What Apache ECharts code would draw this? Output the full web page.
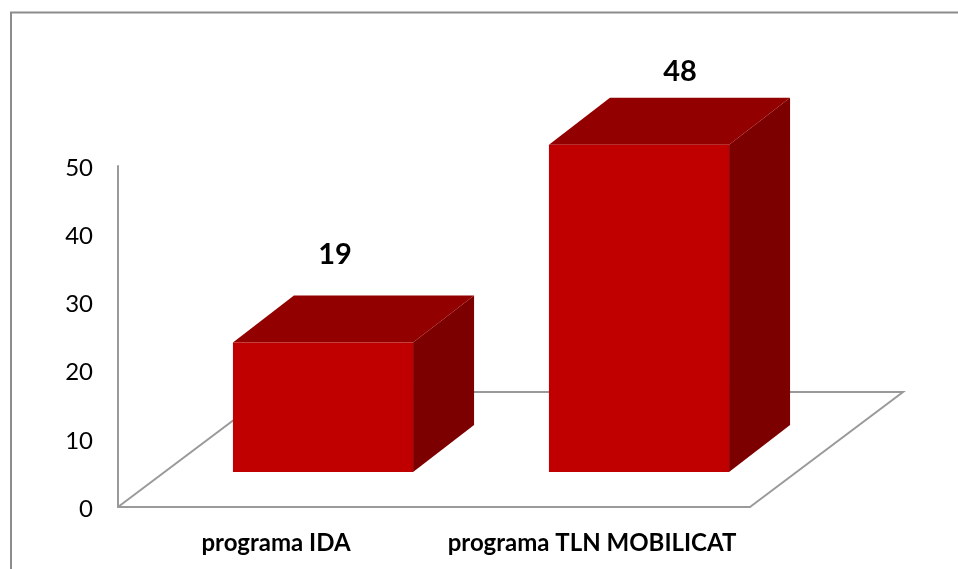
<!DOCTYPE html>
<html lang="es">
<head>
    <meta charset="utf-8">
    <title>programa IDA / TLN MOBILICAT</title>
    <style>
        html, body { margin: 0; padding: 0; background: #fff; }
        #chart { width: 958px; height: 569px; }
    </style>
</head>
<body>
    <div id="chart"></div>
    <script src="https://cdn.jsdelivr.net/npm/echarts@6/dist/echarts.min.js"></script>
    <script>
        const categories = ['programa IDA', 'programa TLN MOBILICAT'];
        const values = [19, 48];
        const yTicks = { min: 0, max: 50, interval: 10 };

        const FONT = 'Lato, "Open Sans", sans-serif';
        const GRAY = '#9a9a9a';

        // 3d look: floor depth, bar depth and where the bar stands on the floor
        const floorDepth = [153, -115];
        const barDepth = [61, -47];
        const barShift = [47, -35];
        const barRatio = 0.57;
        // the labels were placed by hand in the original, so they are offset per bar
        const labelShift = [[12, -88], [41, -73]];

        const chart = echarts.init(document.getElementById('chart'));

        function renderFloor(params) {
            const g = params.coordSys;
            const x0 = g.x, x1 = g.x + g.width, y0 = g.y + g.height;
            const dx = floorDepth[0], dy = floorDepth[1];
            return {
                type: 'polyline',
                shape: {
                    points: [[x0, y0], [x0 + dx, y0 + dy], [x1 + dx, y0 + dy], [x1, y0]]
                },
                style: { fill: null, stroke: GRAY, lineWidth: 2 }
            };
        }

        function renderBar(params, api) {
            const top = api.coord([api.value(0), api.value(1)]);
            const base = api.coord([api.value(0), 0]);
            const w = api.size([1, 0])[0] * barRatio;
            const l = top[0] + barShift[0] - w / 2;
            const r = l + w;
            const t = top[1] + barShift[1];
            const b = base[1] + barShift[1];
            const dx = barDepth[0], dy = barDepth[1];
            const shift = labelShift[params.dataIndex];
            return {
                type: 'group',
                children: [
                    {
                        type: 'polygon',
                        shape: { points: [[r, t], [r + dx, t + dy], [r + dx, b + dy], [r, b]] },
                        style: { fill: '#7d0000' }
                    },
                    {
                        type: 'polygon',
                        shape: { points: [[l, t], [l + dx, t + dy], [r + dx, t + dy], [r, t]] },
                        style: { fill: '#930000' }
                    },
                    {
                        type: 'rect',
                        shape: { x: l, y: t, width: w, height: b - t },
                        style: { fill: '#c00000' }
                    },
                    {
                        type: 'text',
                        x: top[0] + barShift[0] + shift[0],
                        y: t + shift[1],
                        style: {
                            text: String(api.value(1)),
                            font: 'bold 29px ' + FONT,
                            fill: '#000',
                            align: 'center',
                            verticalAlign: 'middle'
                        }
                    }
                ]
            };
        }

        const option = {
            animation: false,
            backgroundColor: '#fff',
            graphic: [
                {
                    type: 'polyline',
                    silent: true,
                    shape: { points: [[11, 569], [11, 12.5], [958, 12.5]] },
                    style: { fill: null, stroke: '#8c8c8c', lineWidth: 2 }
                }
            ],
            grid: { left: 118, top: 166, width: 632, height: 341 },
            xAxis: {
                type: 'category',
                data: categories,
                axisTick: { show: false },
                axisLine: { lineStyle: { color: GRAY, width: 2 } },
                axisLabel: {
                    interval: 0,
                    hideOverlap: false,
                    color: '#000',
                    fontFamily: FONT,
                    fontWeight: 'bold',
                    fontSize: 24,
                    margin: 24
                }
            },
            yAxis: {
                type: 'value',
                min: yTicks.min,
                max: yTicks.max,
                interval: yTicks.interval,
                splitLine: { show: false },
                axisTick: { show: false },
                axisLine: { show: true, lineStyle: { color: GRAY, width: 2 } },
                axisLabel: {
                    margin: 25,
                    formatter: '{n|{value}}',
                    rich: {
                        n: {
                            color: '#000',
                            fontFamily: FONT,
                            fontSize: 24,
                            padding: [4, 0, 0, 0]
                        }
                    }
                }
            },
            series: [
                {
                    type: 'custom',
                    coordinateSystem: 'cartesian2d',
                    silent: true,
                    clip: false,
                    z: 1,
                    data: [[0, 0]],
                    renderItem: renderFloor
                },
                {
                    type: 'custom',
                    coordinateSystem: 'cartesian2d',
                    clip: false,
                    z: 2,
                    encode: { x: 0, y: 1 },
                    data: values.map(function (v, i) { return [i, v]; }),
                    renderItem: renderBar
                }
            ]
        };

        chart.setOption(option);
    </script>
</body>
</html>
